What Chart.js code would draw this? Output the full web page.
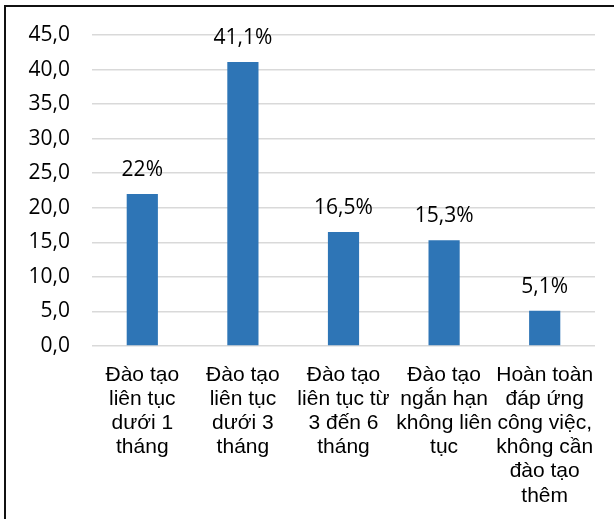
<!DOCTYPE html>
<html>
<head>
<meta charset="utf-8">
<script src="https://cdn.jsdelivr.net/npm/chart.js@4"></script>
<style>
    html, body { margin: 0; padding: 0; background: #fff; }
    #wrap { position: relative; width: 614px; height: 519px; }
    #frame {
        position: absolute; left: 4px; top: 5px; right: 0; bottom: 0;
        border-left: 2px solid #111; border-top: 2px solid #111;
        pointer-events: none;
    }
</style>
</head>
<body>
<div id="wrap">
    <canvas id="c" width="614" height="519"></canvas>
    <div id="frame"></div>
</div>
<script>
// categories, one entry per bar (lines as wrapped in the picture)
const categories = [
    ['Đào tạo', 'liên tục', 'dưới 1', 'tháng'],
    ['Đào tạo', 'liên tục', 'dưới 3', 'tháng'],
    ['Đào tạo', 'liên tục từ', '3 đến 6', 'tháng'],
    ['Đào tạo', 'ngắn hạn', 'không liên', 'tục'],
    ['Hoàn toàn', 'đáp ứng', 'công việc,', 'không cần', 'đào tạo', 'thêm']
];
const values = [22.0, 41.1, 16.5, 15.3, 5.1];
const valueLabels = ['22%', '41,1%', '16,5%', '15,3%', '5,1%'];

// draws the percentage above each bar
const barLabels = {
    id: 'barLabels',
    afterDatasetsDraw(chart) {
        const ctx = chart.ctx;
        const meta = chart.getDatasetMeta(0);
        ctx.save();
        ctx.font = '21px "Open Sans"';
        ctx.fillStyle = '#000';
        ctx.textAlign = 'center';
        ctx.textBaseline = 'middle';
        meta.data.forEach((bar, i) => {
            ctx.fillText(valueLabels[i], bar.x, bar.y - 24);
        });
        ctx.restore();
    }
};

new Chart(document.getElementById('c').getContext('2d'), {
    type: 'bar',
    data: {
        labels: categories,
        datasets: [{
            data: values,
            backgroundColor: '#2E75B6',
            barPercentage: 0.62,
            categoryPercentage: 0.5
        }]
    },
    options: {
        responsive: false,
        animation: false,
        layout: { padding: { top: 35, right: 19, left: 0, bottom: 0 } },
        plugins: { legend: { display: false }, tooltip: { enabled: false } },
        scales: {
            x: {
                grid: { display: false },
                border: { display: false },
                ticks: {
                    color: '#000',
                    font: { family: '"Liberation Sans", Arial', size: 21, lineHeight: 1.15 },
                    maxRotation: 0,
                    autoSkip: false,
                    padding: 9
                },
                afterFit: s => { s.height = 173; }
            },
            y: {
                min: 0,
                max: 45,
                grid: { color: '#d9d9d9', lineWidth: 1.5, drawTicks: false },
                border: { display: false },
                ticks: {
                    stepSize: 5,
                    color: '#000',
                    padding: 22,
                    font: { family: '"Open Sans"', size: 21 },
                    callback: v => v.toFixed(1).replace('.', ',')
                },
                afterFit: s => { s.width = 92; }
            }
        }
    },
    plugins: [barLabels]
});
</script>
</body>
</html>
